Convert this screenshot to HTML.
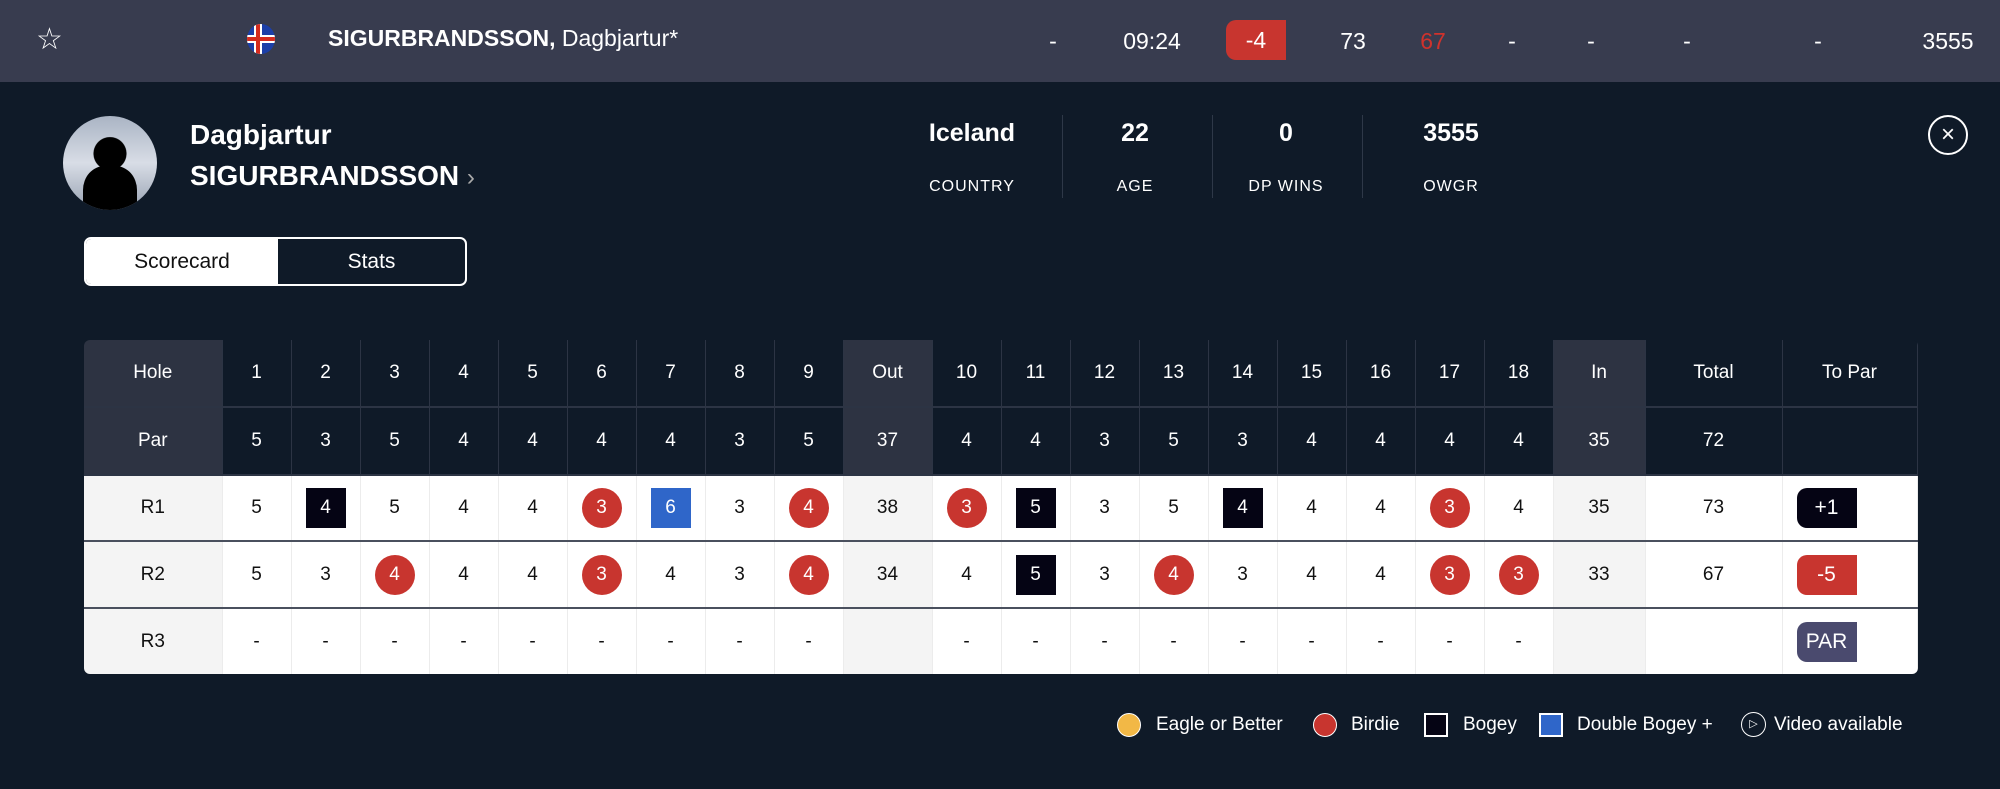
<!DOCTYPE html>
<html><head><meta charset="utf-8"><style>
*{margin:0;padding:0;box-sizing:border-box}
body{width:2000px;height:789px;background:#0f1a28;font-family:"Liberation Sans",sans-serif;color:#fff;position:relative;overflow:hidden}
.abs{position:absolute}
.bar{left:0;top:0;width:2000px;height:82px;background:#383c4f}
.bt{top:27px;font-size:23px;line-height:28px;transform:translateX(-50%)}
table{position:absolute;left:84px;top:340px;border-collapse:collapse;table-layout:fixed;width:1833px;border-radius:6px;overflow:hidden}
td{text-align:center;font-size:19px;padding:0;vertical-align:middle}
tr.h td{background:#0f1a28;color:#fff;border-right:1px solid #2c3444;border-bottom:2px solid #2c3444}
tr.h td.g{background:#2d3342}
tr.r td{background:#fff;color:#111;border-right:1px solid #ececec;border-bottom:2px solid #4a505e}
tr.r td.g{background:#f4f4f4}
tr.r:last-child td{border-bottom:none}
.c{display:inline-block;width:40px;height:40px;border-radius:50%;background:#c8352f;color:#fff;line-height:40px}
.s{display:inline-block;width:40px;height:40px;background:#050414;color:#fff;line-height:40px}
.b{background:#2f66c9}
.tp{display:inline-block;width:60px;height:40px;line-height:40px;color:#fff;border-radius:10px 0 0 10px;font-size:21px;margin-left:14px;text-align:center}
.lg{top:714px;font-size:19px;line-height:22px}
</style></head><body>
<div class="abs bar"></div>
<div class="abs" style="left:36px;top:22px;font-size:30px;color:#fff">☆</div>
<svg class="abs" style="left:246px;top:24px" width="30" height="30" viewBox="0 0 30 30"><defs><clipPath id="fc"><ellipse cx="15" cy="15" rx="14" ry="15"/></clipPath></defs><g clip-path="url(#fc)"><rect width="30" height="30" fill="#1c3fa8"/><rect x="8" width="8" height="30" fill="#fff"/><rect y="11" width="30" height="8" fill="#fff"/><rect x="10" width="4" height="30" fill="#d52b1e"/><rect y="13" width="30" height="4" fill="#d52b1e"/></g></svg>
<div class="abs" style="left:328px;top:24px;font-size:23px;line-height:28px"><b>SIGURBRANDSSON,</b> Dagbjartur*</div>
<div class="abs bt" style="left:1053px">-</div>
<div class="abs bt" style="left:1152px">09:24</div>
<div class="abs" style="left:1226px;top:20px;width:60px;height:40px;background:#c8352f;border-radius:10px 0 0 10px;text-align:center;line-height:40px;font-size:23px">-4</div>
<div class="abs bt" style="left:1353px">73</div>
<div class="abs bt" style="left:1433px;color:#d0322c">67</div>
<div class="abs bt" style="left:1512px">-</div>
<div class="abs bt" style="left:1591px">-</div>
<div class="abs bt" style="left:1687px">-</div>
<div class="abs bt" style="left:1818px">-</div>
<div class="abs bt" style="left:1948px">3555</div>

<div class="abs" style="left:63px;top:116px;width:94px;height:94px;border-radius:50%;background:radial-gradient(circle at 50% 40%,#000 0 22%,transparent 23%),linear-gradient(180deg,#aab4c4,#d8dde6 50%,#98a2b2);overflow:hidden">
<div class="abs" style="left:20px;top:50px;width:54px;height:60px;background:#000;border-radius:40% 40% 0 0"></div></div>
<div class="abs" style="left:190px;top:119px;font-size:28px;font-weight:bold;line-height:32px">Dagbjartur</div>
<div class="abs" style="left:190px;top:160px;font-size:28px;font-weight:bold;line-height:32px">SIGURBRANDSSON <span style="color:#aaa;font-weight:normal;font-size:24px">›</span></div>

<div class="abs" style="left:872px;top:119px;width:200px;text-align:center;font-size:25px;font-weight:bold">Iceland</div>
<div class="abs" style="left:872px;top:178px;width:200px;text-align:center;font-size:16px;letter-spacing:1px">COUNTRY</div>
<div class="abs" style="left:1062px;top:115px;width:1px;height:83px;background:#2e3848"></div>
<div class="abs" style="left:1035px;top:119px;width:200px;text-align:center;font-size:25px;font-weight:bold">22</div>
<div class="abs" style="left:1035px;top:178px;width:200px;text-align:center;font-size:16px;letter-spacing:1px">AGE</div>
<div class="abs" style="left:1212px;top:115px;width:1px;height:83px;background:#2e3848"></div>
<div class="abs" style="left:1186px;top:119px;width:200px;text-align:center;font-size:25px;font-weight:bold">0</div>
<div class="abs" style="left:1186px;top:178px;width:200px;text-align:center;font-size:16px;letter-spacing:1px">DP WINS</div>
<div class="abs" style="left:1362px;top:115px;width:1px;height:83px;background:#2e3848"></div>
<div class="abs" style="left:1351px;top:119px;width:200px;text-align:center;font-size:25px;font-weight:bold">3555</div>
<div class="abs" style="left:1351px;top:178px;width:200px;text-align:center;font-size:16px;letter-spacing:1px">OWGR</div>
<div class="abs" style="left:1928px;top:115px;width:40px;height:40px;border:2px solid #fff;border-radius:50%;text-align:center;line-height:36px;font-size:24px">×</div>

<div class="abs" style="left:84px;top:237px;width:383px;height:49px;border:2px solid #fff;border-radius:7px;overflow:hidden">
<div class="abs" style="left:0;top:0;width:192px;height:45px;background:#fff;color:#111;text-align:center;line-height:45px;font-size:21px">Scorecard</div>
<div class="abs" style="left:192px;top:0;width:187px;height:45px;text-align:center;line-height:45px;font-size:21px">Stats</div></div>

<table>
<colgroup><col style="width:138px"><col span="9" style="width:69px"><col style="width:89px"><col span="9" style="width:69px"><col style="width:92px"><col style="width:137px"><col style="width:135px"></colgroup>
<tr class="h" style="height:67px"><td class="g">Hole</td><td>1</td><td>2</td><td>3</td><td>4</td><td>5</td><td>6</td><td>7</td><td>8</td><td>9</td><td class="g">Out</td><td>10</td><td>11</td><td>12</td><td>13</td><td>14</td><td>15</td><td>16</td><td>17</td><td>18</td><td class="g">In</td><td>Total</td><td>To Par</td></tr>
<tr class="h" style="height:68px"><td class="g">Par</td><td>5</td><td>3</td><td>5</td><td>4</td><td>4</td><td>4</td><td>4</td><td>3</td><td>5</td><td class="g">37</td><td>4</td><td>4</td><td>3</td><td>5</td><td>3</td><td>4</td><td>4</td><td>4</td><td>4</td><td class="g">35</td><td>72</td><td></td></tr>
<tr class="r" style="height:66px"><td class="g">R1</td><td>5</td><td><span class="s">4</span></td><td>5</td><td>4</td><td>4</td><td><span class="c">3</span></td><td><span class="s b">6</span></td><td>3</td><td><span class="c">4</span></td><td class="g">38</td><td><span class="c">3</span></td><td><span class="s">5</span></td><td>3</td><td>5</td><td><span class="s">4</span></td><td>4</td><td>4</td><td><span class="c">3</span></td><td>4</td><td class="g">35</td><td>73</td><td style="text-align:left"><span class="tp" style="background:#050414">+1</span></td></tr>
<tr class="r" style="height:67px"><td class="g">R2</td><td>5</td><td>3</td><td><span class="c">4</span></td><td>4</td><td>4</td><td><span class="c">3</span></td><td>4</td><td>3</td><td><span class="c">4</span></td><td class="g">34</td><td>4</td><td><span class="s">5</span></td><td>3</td><td><span class="c">4</span></td><td>3</td><td>4</td><td>4</td><td><span class="c">3</span></td><td><span class="c">3</span></td><td class="g">33</td><td>67</td><td style="text-align:left"><span class="tp" style="background:#c8352f">-5</span></td></tr>
<tr class="r" style="height:66px"><td class="g">R3</td><td>-</td><td>-</td><td>-</td><td>-</td><td>-</td><td>-</td><td>-</td><td>-</td><td>-</td><td class="g"></td><td>-</td><td>-</td><td>-</td><td>-</td><td>-</td><td>-</td><td>-</td><td>-</td><td>-</td><td class="g"></td><td></td><td style="text-align:left"><span class="tp" style="background:#4a4a6e">PAR</span></td></tr>
</table>

<div class="abs" style="left:1117px;top:713px;width:24px;height:24px;border-radius:50%;background:#f2b846;border:1px solid #fff"></div>
<div class="abs lg" style="left:1156px">Eagle or Better</div>
<div class="abs" style="left:1313px;top:713px;width:24px;height:24px;border-radius:50%;background:#c8352f;border:1px solid #fff"></div>
<div class="abs lg" style="left:1351px">Birdie</div>
<div class="abs" style="left:1424px;top:713px;width:24px;height:24px;background:#050414;border:2px solid #fff"></div>
<div class="abs lg" style="left:1463px">Bogey</div>
<div class="abs" style="left:1539px;top:713px;width:24px;height:24px;background:#2f66c9;border:2px solid #fff"></div>
<div class="abs lg" style="left:1577px">Double Bogey +</div>
<div class="abs" style="left:1741px;top:712px;width:25px;height:25px;border:1px solid #fff;border-radius:50%;font-size:11px;text-align:center;line-height:23px">▷</div>
<div class="abs lg" style="left:1774px">Video available</div>
</body></html>
